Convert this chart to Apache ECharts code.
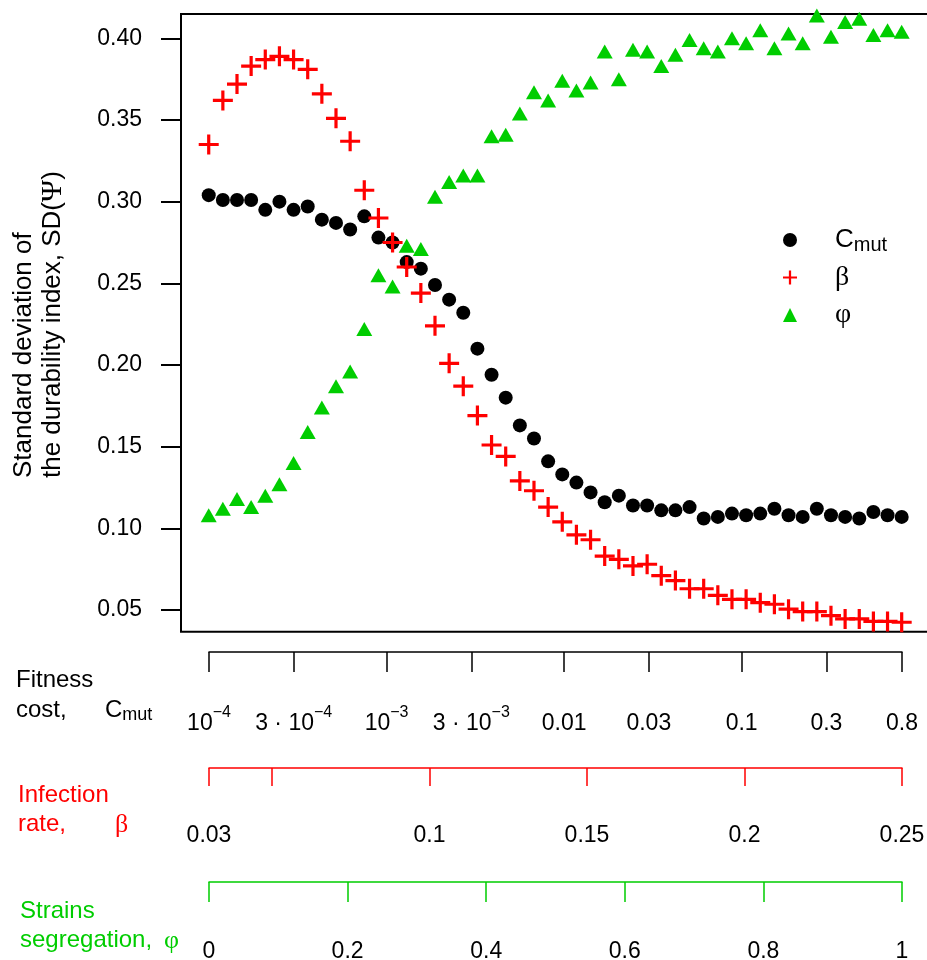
<!DOCTYPE html>
<html>
<head>
<meta charset="utf-8">
<title>SD of the durability index</title>
<script src="https://cdn.jsdelivr.net/npm/echarts@6/dist/echarts.min.js"></script>
<style>
  html, body { margin: 0; padding: 0; background: #fff; }
  #chart { width: 927px; height: 960px; }
</style>
</head>
<body>
<div id="chart"></div>
<script>
// SD(Psi) at each of the 50 steps along the parameter ranges
const cmutSD = [0.304, 0.301, 0.301, 0.301, 0.295, 0.300, 0.295, 0.297, 0.289, 0.287,
  0.283, 0.291, 0.278, 0.275, 0.263, 0.259, 0.249, 0.240, 0.232, 0.210,
  0.194, 0.180, 0.163, 0.155, 0.141, 0.133, 0.128, 0.122, 0.116, 0.120,
  0.114, 0.114, 0.111, 0.111, 0.113, 0.106, 0.107, 0.109, 0.108, 0.109,
  0.112, 0.108, 0.107, 0.112, 0.108, 0.107, 0.106, 0.110, 0.108, 0.107];
const betaSD = [0.335, 0.362, 0.372, 0.383, 0.387, 0.389, 0.387, 0.381, 0.366, 0.351,
  0.337, 0.307, 0.290, 0.275, 0.260, 0.244, 0.224, 0.201, 0.187, 0.169,
  0.151, 0.144, 0.129, 0.123, 0.113, 0.104, 0.096, 0.093, 0.083, 0.081,
  0.077, 0.078, 0.071, 0.068, 0.063, 0.063, 0.059, 0.0565, 0.0565, 0.0545,
  0.0535, 0.0505, 0.049, 0.049, 0.0465, 0.0445, 0.0445, 0.043, 0.043, 0.0425];
const phiSD = [0.108, 0.112, 0.118, 0.113, 0.120, 0.127, 0.140, 0.159, 0.174, 0.187,
  0.196, 0.222, 0.255, 0.248, 0.273, 0.271, 0.303, 0.312, 0.316, 0.316,
  0.340, 0.341, 0.354, 0.367, 0.362, 0.374, 0.368, 0.373, 0.392, 0.375,
  0.393, 0.392, 0.383, 0.390, 0.399, 0.394, 0.392, 0.400, 0.397, 0.405,
  0.394, 0.403, 0.397, 0.414, 0.401, 0.410, 0.412, 0.402, 0.405, 0.404];

const sdTicks = [0.05, 0.10, 0.15, 0.20, 0.25, 0.30, 0.35, 0.40];

// the three parameter scales under the plot
const cmutTicks = [1e-4, 3e-4, 1e-3, 3e-3, 0.01, 0.03, 0.1, 0.3, 0.8];
const cmutTickLabels = ['{b|10}{s|\u22124}', '{b|3 \u00b7 10}{s|\u22124}', '{b|10}{s|\u22123}',
  '{b|3 \u00b7 10}{s|\u22123}', '{b|0.01}', '{b|0.03}', '{b|0.1}', '{b|0.3}', '{b|0.8}'];
const betaTicks = [0.03, 0.05, 0.1, 0.15, 0.2, 0.25];
const betaTickLabels = [0.03, 0.1, 0.15, 0.2, 0.25];
const phiTicks = [0, 0.2, 0.4, 0.6, 0.8, 1];

const RED = '#ff0000';
const GREEN = '#00cd00';
const SANS = 'Liberation Sans, Arial, sans-serif';
const SERIF = 'Liberation Serif, Times New Roman, serif';

const plusPath = 'path://M-0.16,-1H0.16V-0.16H1V0.16H0.16V1H-0.16V0.16H-1V-0.16H-0.16Z';

const toPoints = arr => arr.map((v, i) => [i, v]);
const cmutLog = cmutTicks.map(v => Math.log10(v));

const chart = echarts.init(document.getElementById('chart'));

function lowerAxis(gridIndex, color, tickLen, margin, extra) {
  return Object.assign({
    gridIndex: gridIndex,
    type: 'value',
    position: 'bottom',
    splitLine: { show: false },
    axisLine: { show: true, onZero: false, lineStyle: { color: color, width: 1.5 } },
    axisTick: { show: true, length: tickLen, lineStyle: { color: color, width: 1.5 } },
    axisLabel: {
      margin: margin,
      color: '#000',
      fontFamily: SANS,
      fontSize: 23,
      lineHeight: 30,
      showMinLabel: true,
      showMaxLabel: true
    }
  }, extra);
}

const blackAxis = lowerAxis(1, '#000', 20, 53, {
  min: -4, max: Math.log10(0.8)
});
blackAxis.axisTick.customValues = cmutLog;
blackAxis.axisLabel.customValues = cmutLog;
blackAxis.axisLabel.formatter = function (v) {
  let best = 0;
  cmutLog.forEach((t, i) => { if (Math.abs(t - v) < Math.abs(cmutLog[best] - v)) best = i; });
  return cmutTickLabels[best];
};
blackAxis.axisLabel.rich = {
  b: { fontSize: 23, fontFamily: SANS, color: '#000', lineHeight: 30, verticalAlign: 'bottom' },
  s: { fontSize: 16, fontFamily: SANS, color: '#000', verticalAlign: 'top' }
};

const redAxis = lowerAxis(2, RED, 18, 53, { min: 0.03, max: 0.25 });
redAxis.axisTick.customValues = betaTicks;
redAxis.axisLabel.customValues = betaTickLabels;
redAxis.axisLabel.formatter = v => String(v);

const greenAxis = lowerAxis(3, GREEN, 20, 55, { min: 0, max: 1 });
greenAxis.axisTick.customValues = phiTicks;
greenAxis.axisLabel.customValues = phiTicks;
greenAxis.axisLabel.formatter = v => String(v);

const hiddenY = i => ({ gridIndex: i, type: 'value', show: false });

const option = {
  animation: false,
  backgroundColor: '#fff',
  grid: [
    { left: 181, top: 14, width: 748.4, height: 617.7, show: true,
      borderColor: '#000', borderWidth: 2, backgroundColor: 'transparent',
      outerBoundsMode: 'none' },
    { left: 209, width: 693, top: 651, height: 1, outerBoundsMode: 'none' },
    { left: 209, width: 693, top: 767, height: 1, outerBoundsMode: 'none' },
    { left: 209, width: 693, top: 881, height: 1, outerBoundsMode: 'none' }
  ],
  xAxis: [
    { gridIndex: 0, type: 'value', min: -1.96, max: 50.96, show: false },
    blackAxis, redAxis, greenAxis
  ],
  yAxis: [
    {
      gridIndex: 0,
      type: 'value',
      position: 'left',
      min: 0.0367,
      max: 0.4149,
      splitLine: { show: false },
      axisLine: { show: false, onZero: false },
      axisTick: { show: true, length: 20, customValues: sdTicks,
        lineStyle: { color: '#000', width: 2 } },
      axisLabel: {
        customValues: sdTicks,
        formatter: v => v.toFixed(2),
        margin: 39,
        color: '#000',
        fontFamily: SANS,
        fontSize: 23
      }
    },
    hiddenY(1), hiddenY(2), hiddenY(3)
  ],
  legend: {
    orient: 'vertical',
    left: 783,
    top: 225,
    padding: 0,
    itemWidth: 14,
    itemHeight: 14,
    itemGap: 7.5,
    selectedMode: false,
    data: [
      { name: 'Cmut', icon: 'circle' },
      { name: '\u03b2', icon: plusPath },
      { name: '\u03c6', icon: 'triangle' }
    ],
    formatter: name => name === 'Cmut' ? '{c|C}{s|mut}' : '{g|' + name + '}',
    textStyle: {
      color: '#000',
      padding: [0, 0, 0, 33],
      lineHeight: 30,
      rich: {
        c: { fontSize: 26, fontFamily: SANS, color: '#000', lineHeight: 30 },
        s: { fontSize: 20, fontFamily: SANS, color: '#000', lineHeight: 14, verticalAlign: 'bottom' },
        g: { fontSize: 28, fontFamily: SERIF, color: '#000', lineHeight: 30 }
      }
    }
  },
  series: [
    {
      name: 'Cmut', type: 'scatter', data: toPoints(cmutSD),
      symbol: 'circle', symbolSize: 14, clip: false,
      itemStyle: { color: '#000', opacity: 1 }, z: 2
    },
    {
      name: '\u03b2', type: 'scatter', data: toPoints(betaSD),
      symbol: plusPath, symbolSize: 20, clip: false,
      itemStyle: { color: RED, opacity: 1 }, z: 3
    },
    {
      name: '\u03c6', type: 'scatter', data: toPoints(phiSD),
      symbol: 'triangle', symbolSize: [16, 14], clip: false,
      itemStyle: { color: GREEN, opacity: 1 }, z: 4
    }
  ],
  graphic: [
    // y axis title, two lines written upward
    { type: 'text', x: 24, y: 478, rotation: Math.PI / 2,
      style: { text: 'Standard deviation of', fill: '#000', fontSize: 26, fontFamily: SANS,
        align: 'left', verticalAlign: 'middle', textAlign: 'left', textVerticalAlign: 'middle' } },
    { type: 'text', x: 53, y: 478, rotation: Math.PI / 2,
      style: { text: '{a|the durability index, SD(}{g|\u03a8}{a|)}', fill: '#000',
        fontSize: 26, fontFamily: SANS,
        align: 'left', verticalAlign: 'middle', textAlign: 'left', textVerticalAlign: 'middle',
        rich: {
          a: { fontSize: 26, fontFamily: SANS, fill: '#000', color: '#000' },
          g: { fontSize: 30, fontFamily: SERIF, fill: '#000', color: '#000' }
        } } },

    // captions of the lower scales
    { type: 'text', x: 16, y: 680,
      style: { text: 'Fitness', fill: '#000', fontSize: 24, fontFamily: SANS,
        verticalAlign: 'middle', textVerticalAlign: 'middle' } },
    { type: 'text', x: 16, y: 710,
      style: { text: 'cost,', fill: '#000', fontSize: 24, fontFamily: SANS,
        verticalAlign: 'middle', textVerticalAlign: 'middle' } },
    { type: 'text', x: 105, y: 710,
      style: { text: '{c|C}{s|mut}', fill: '#000', fontSize: 24, fontFamily: SANS,
        verticalAlign: 'middle', textVerticalAlign: 'middle',
        rich: {
          c: { fontSize: 24, fontFamily: SANS, lineHeight: 28 },
          s: { fontSize: 18, fontFamily: SANS, lineHeight: 14, verticalAlign: 'bottom' }
        } } },
    { type: 'text', x: 18, y: 795,
      style: { text: 'Infection', fill: RED, fontSize: 24, fontFamily: SANS,
        verticalAlign: 'middle', textVerticalAlign: 'middle' } },
    { type: 'text', x: 18, y: 824,
      style: { text: 'rate,', fill: RED, fontSize: 24, fontFamily: SANS,
        verticalAlign: 'middle', textVerticalAlign: 'middle' } },
    { type: 'text', x: 115, y: 825,
      style: { text: '\u03b2', fill: RED, fontSize: 26, fontFamily: SERIF,
        verticalAlign: 'middle', textVerticalAlign: 'middle' } },
    { type: 'text', x: 20, y: 911,
      style: { text: 'Strains', fill: GREEN, fontSize: 24, fontFamily: SANS,
        verticalAlign: 'middle', textVerticalAlign: 'middle' } },
    { type: 'text', x: 20, y: 940,
      style: { text: 'segregation,', fill: GREEN, fontSize: 24, fontFamily: SANS,
        verticalAlign: 'middle', textVerticalAlign: 'middle' } },
    { type: 'text', x: 164, y: 941,
      style: { text: '\u03c6', fill: GREEN, fontSize: 26, fontFamily: SERIF,
        verticalAlign: 'middle', textVerticalAlign: 'middle' } }
  ]
};

chart.setOption(option);
</script>
</body>
</html>
